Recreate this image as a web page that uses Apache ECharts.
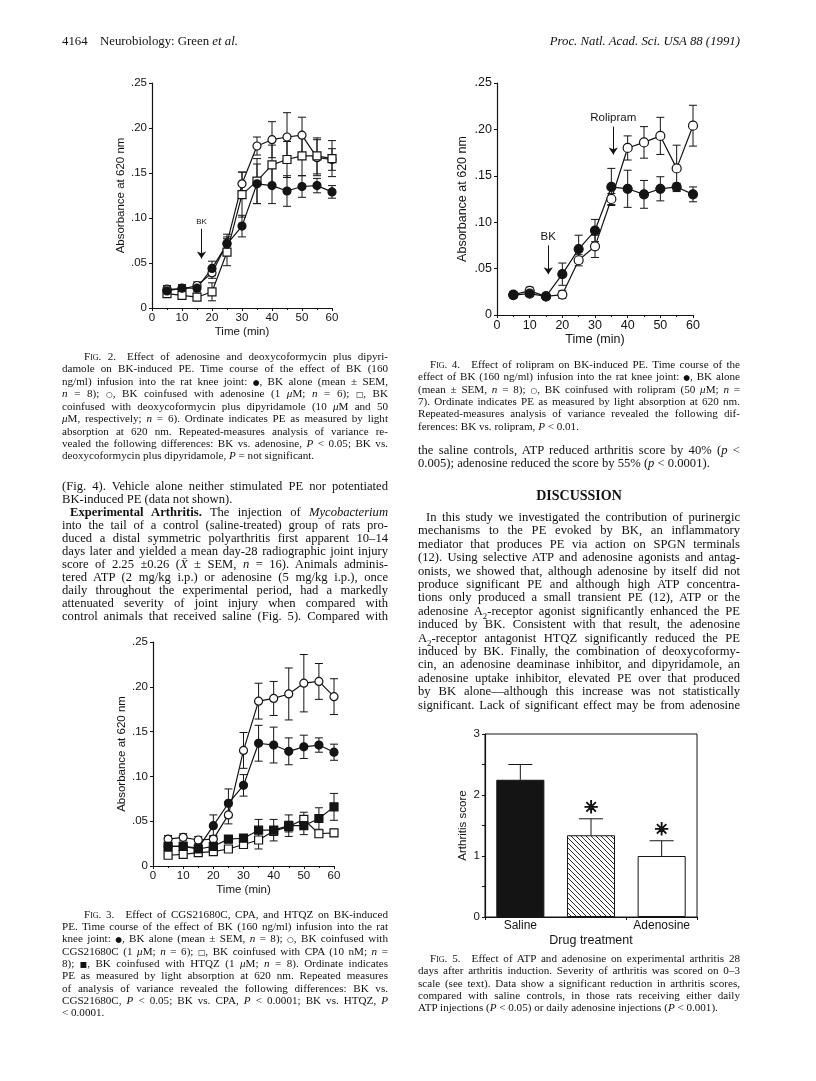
<!DOCTYPE html>
<html>
<head>
<meta charset="utf-8">
<title>Green et al. 1991, Figs. 2-5</title>
<script src="https://cdn.jsdelivr.net/npm/echarts@6.0.0/dist/echarts.min.js"></script>
<style>
    html, body { margin: 0; padding: 0; background: #fff; }
    #page { position: relative; width: 816px; height: 1081px; overflow: hidden; background: #fff; }
    #chart { position: absolute; left: 0; top: 0; width: 816px; height: 1081px; }
    .ln {
        position: absolute; white-space: pre; line-height: 1; color: #111;
        font-family: "Liberation Serif", "DejaVu Serif", serif;
    }
    .sc { font-variant: small-caps; }
    .sym { font-family: "DejaVu Sans", sans-serif; font-size: 0.7em; }
</style>
</head>
<body>
<div id="page"><div id="chart"></div></div>
<script>
const FONT = '"Liberation Sans", Arial, sans-serif'
const INK = '#141414'

// sampling times (min), shared by figs 2-4
const times = [5, 10, 15, 20, 25, 30, 35, 40, 45, 50, 55, 60]

// Fig. 2 - adenosine / deoxycoformycin + dipyridamole
const fig2BK       = [0.019, 0.022, 0.022, 0.044, 0.071, 0.091, 0.138, 0.136, 0.130, 0.135, 0.136, 0.129]
const fig2BKSem    = [0.005, 0.004, 0.004, 0.008, 0.008, 0.012, 0.022, 0.020, 0.017, 0.012, 0.008, 0.007]
const fig2Ado      = [0.021, 0.021, 0.025, 0.039, 0.072, 0.138, 0.180, 0.187, 0.190, 0.192, 0.167, 0.165]
const fig2AdoSem   = [0.004, 0.004, 0.004, 0.006, 0.010, 0.013, 0.010, 0.020, 0.027, 0.020, 0.020, 0.012]
const fig2Dcf      = [0.016, 0.014, 0.012, 0.018, 0.062, 0.126, 0.141, 0.159, 0.165, 0.169, 0.169, 0.166]
const fig2DcfSem   = [0.003, 0.003, 0.003, 0.010, 0.015, 0.025, 0.025, 0.022, 0.020, 0.022, 0.020, 0.020]

// Fig. 4 - rolipram
const fig4BK       = [0.0215, 0.023, 0.020, 0.044, 0.071, 0.091, 0.138, 0.136, 0.130, 0.136, 0.138, 0.130]
const fig4BKSem    = [0.003, 0.003, 0.003, 0.012, 0.015, 0.012, 0.020, 0.020, 0.015, 0.013, 0.004, 0.008]
const fig4Roli     = [0.022, 0.026, 0.020, 0.022, 0.059, 0.074, 0.125, 0.180, 0.186, 0.193, 0.158, 0.204]
const fig4RoliSem  = [0.003, 0.004, 0.003, 0.004, 0.006, 0.012, 0.006, 0.013, 0.017, 0.020, 0.025, 0.022]

// Fig. 3 - CGS21680C / CPA / HTQZ
const fig3BK       = [0.022, 0.022, 0.020, 0.045, 0.070, 0.090, 0.137, 0.135, 0.128, 0.133, 0.135, 0.127]
const fig3BKSem    = [0.004, 0.004, 0.004, 0.012, 0.016, 0.012, 0.020, 0.020, 0.015, 0.013, 0.008, 0.009]
const fig3CGS      = [0.030, 0.032, 0.029, 0.030, 0.057, 0.129, 0.184, 0.187, 0.192, 0.204, 0.206, 0.189]
const fig3CGSSem   = [0.004, 0.004, 0.004, 0.004, 0.010, 0.020, 0.020, 0.019, 0.029, 0.032, 0.020, 0.020]
const fig3CPA      = [0.012, 0.013, 0.015, 0.016, 0.019, 0.024, 0.029, 0.039, 0.044, 0.052, 0.036, 0.037]
const fig3CPASem   = [0.003, 0.003, 0.003, 0.003, 0.003, 0.004, 0.010, 0.005, 0.006, 0.008, 0.004, 0.004]
const fig3HTQZ     = [0.022, 0.022, 0.019, 0.022, 0.030, 0.031, 0.040, 0.040, 0.045, 0.045, 0.053, 0.066]
const fig3HTQZSem  = [0.004, 0.004, 0.004, 0.004, 0.004, 0.004, 0.012, 0.012, 0.012, 0.010, 0.012, 0.015]

// Fig. 5 - arthritis score
const groups      = ['Saline', 'ATP', 'Adenosine']
const scores      = [2.25, 1.34, 1.0]
const scoreSem    = [0.25, 0.27, 0.25]
const significant = ['', '\u2733', '\u2733']

// absorbance tick labels: ".25" style
function absLabel (v) {
    if (v === 0) return '0'
    return '.' + String(Math.round(v * 100)).padStart(2, '0')
}

function timeAxis (gi, fs) {
    return {
        type: 'value', gridIndex: gi, min: 0, max: 60, interval: 10,
        name: 'Time (min)', nameLocation: 'middle', nameGap: 18,
        nameTextStyle: { fontFamily: FONT, fontSize: fs, color: INK },
        axisLine: { onZero: false, lineStyle: { color: INK, width: 1.2 } },
        axisTick: { show: true, length: 3, lineStyle: { color: INK } },
        minorTick: { show: true, splitNumber: 2, length: 2, lineStyle: { color: INK } },
        axisLabel: { fontFamily: FONT, fontSize: fs, color: INK, margin: 4 },
        splitLine: { show: false }
    }
}

function absAxis (gi, fs, gap) {
    return {
        type: 'value', gridIndex: gi, min: 0, max: 0.25, interval: 0.05,
        name: 'Absorbance at 620 nm', nameLocation: 'middle', nameGap: gap,
        nameTextStyle: { fontFamily: FONT, fontSize: fs, color: INK },
        axisLine: { show: true, onZero: false, lineStyle: { color: INK, width: 1.2 } },
        axisTick: { show: true, length: 3, lineStyle: { color: INK } },
        axisLabel: { fontFamily: FONT, fontSize: fs, color: INK, margin: 5, formatter: absLabel },
        splitLine: { show: false }
    }
}

function curve (gi, name, vals, symbol, filled, size) {
    return {
        type: 'line', name: name, xAxisIndex: gi, yAxisIndex: gi,
        data: times.map((t, i) => [t, vals[i]]),
        symbol: symbol, symbolSize: size, showAllSymbol: true,
        lineStyle: { color: INK, width: 1.2 },
        itemStyle: { color: filled ? INK : '#fff', borderColor: INK, borderWidth: 1.2 },
        z: 4
    }
}

function errBars (gi, vals, sem, cap) {
    return {
        type: 'custom', xAxisIndex: gi, yAxisIndex: gi, z: 2,
        data: times.map((t, i) => [t, vals[i] - sem[i], vals[i] + sem[i]]),
        renderItem: function (params, api) {
            const lo = api.coord([api.value(0), api.value(1)])
            const hi = api.coord([api.value(0), api.value(2)])
            const c = cap / 2
            const st = { stroke: INK, lineWidth: 1 }
            return {
                type: 'group', children: [
                    { type: 'line', shape: { x1: lo[0], y1: lo[1], x2: hi[0], y2: hi[1] }, style: st },
                    { type: 'line', shape: { x1: lo[0] - c, y1: lo[1], x2: lo[0] + c, y2: lo[1] }, style: st },
                    { type: 'line', shape: { x1: hi[0] - c, y1: hi[1], x2: hi[0] + c, y2: hi[1] }, style: st }
                ]
            }
        }
    }
}

// arrow with a label above it, placed in data space
function arrowNote (gi, x, yTop, yTip, text, fs) {
    return {
        type: 'line', xAxisIndex: gi, yAxisIndex: gi, data: [], silent: true,
        markLine: {
            silent: true, symbol: ['none', 'arrow'], symbolSize: 7,
            lineStyle: { color: INK, width: 1, type: 'solid' },
            label: { show: true, position: 'start', formatter: text, distance: 3,
                     fontFamily: FONT, fontSize: fs, color: INK },
            data: [[{ coord: [x, yTop] }, { coord: [x, yTip] }]]
        }
    }
}

// hatch for the ATP bar
const hatch = document.createElement('canvas')
hatch.width = 5
hatch.height = 5
const hc = hatch.getContext('2d')
hc.fillStyle = '#fff'
hc.fillRect(0, 0, 5, 5)
hc.strokeStyle = INK
hc.lineWidth = 0.9
hc.beginPath()
hc.moveTo(-1, -1)
hc.lineTo(6, 6)
hc.stroke()
const barFills = [INK, { image: hatch, repeat: 'repeat' }, '#fff']

const chart = echarts.init(document.getElementById('chart'))
chart.setOption({
    animation: false,
    grid: [
        { left: 152, top: 83, width: 180, height: 225, outerBoundsMode: 'none' },
        { left: 497, top: 83, width: 196, height: 232, outerBoundsMode: 'none' },
        { left: 153, top: 642, width: 181, height: 224, outerBoundsMode: 'none' },
        { left: 485, top: 734, width: 212, height: 183, outerBoundsMode: 'none',
          show: true, borderColor: INK, borderWidth: 1, backgroundColor: 'transparent' }
    ],
    xAxis: [
        timeAxis(0, 11.5),
        timeAxis(1, 12.5),
        timeAxis(2, 11.5),
        {
            type: 'category', gridIndex: 3, data: groups,
            name: 'Drug treatment', nameLocation: 'middle', nameGap: 17,
            nameTextStyle: { fontFamily: FONT, fontSize: 12.5, color: INK },
            axisLine: { lineStyle: { color: INK, width: 1.2 } },
            axisTick: { show: true, length: 3, lineStyle: { color: INK } },
            axisLabel: { fontFamily: FONT, fontSize: 12, color: INK, margin: 3 }
        }
    ],
    yAxis: [
        absAxis(0, 11.5, 24),
        absAxis(1, 12.5, 28),
        absAxis(2, 11.5, 24),
        {
            type: 'value', gridIndex: 3, min: 0, max: 3, interval: 0.5,
            name: 'Arthritis score', nameLocation: 'middle', nameGap: 16,
            nameTextStyle: { fontFamily: FONT, fontSize: 11.5, color: INK },
            axisLine: { show: true, lineStyle: { color: INK, width: 1.2 } },
            axisTick: { show: true, length: 3, lineStyle: { color: INK } },
            axisLabel: { fontFamily: FONT, fontSize: 11.5, color: INK, margin: 5,
                         formatter: v => Number.isInteger(v) ? String(v) : '' },
            splitLine: { show: false }
        }
    ],
    series: [
        // Fig. 2
        errBars(0, fig2Ado, fig2AdoSem, 8),
        errBars(0, fig2Dcf, fig2DcfSem, 8),
        errBars(0, fig2BK, fig2BKSem, 8),
        curve(0, 'BK + adenosine', fig2Ado, 'circle', false, 8),
        curve(0, 'BK + deoxycoformycin/dipyridamole', fig2Dcf, 'rect', false, 8),
        curve(0, 'BK alone', fig2BK, 'circle', true, 8),
        arrowNote(0, 16.5, 0.088, 0.055, 'BK', 8),

        // Fig. 4
        errBars(1, fig4Roli, fig4RoliSem, 8),
        errBars(1, fig4BK, fig4BKSem, 8),
        curve(1, 'BK + rolipram', fig4Roli, 'circle', false, 9),
        curve(1, 'BK alone', fig4BK, 'circle', true, 9),
        arrowNote(1, 15.7, 0.075, 0.044, 'BK', 11.5),
        arrowNote(1, 35.6, 0.203, 0.173, 'Rolipram', 11.5),

        // Fig. 3
        errBars(2, fig3CGS, fig3CGSSem, 8),
        errBars(2, fig3BK, fig3BKSem, 8),
        errBars(2, fig3CPA, fig3CPASem, 8),
        errBars(2, fig3HTQZ, fig3HTQZSem, 8),
        curve(2, 'BK + CGS21680C', fig3CGS, 'circle', false, 8),
        curve(2, 'BK + CPA', fig3CPA, 'rect', false, 8),
        curve(2, 'BK + HTQZ', fig3HTQZ, 'rect', true, 8),
        curve(2, 'BK alone', fig3BK, 'circle', true, 8),

        // Fig. 5
        {
            type: 'bar', xAxisIndex: 3, yAxisIndex: 3, barWidth: '68%',
            data: scores.map((v, i) => ({ value: v, itemStyle: { color: barFills[i] } })),
            itemStyle: { borderColor: INK, borderWidth: 1 }
        },
        {
            type: 'custom', xAxisIndex: 3, yAxisIndex: 3, z: 3,
            data: scores.map((v, i) => [i, v, v + scoreSem[i]]),
            renderItem: function (params, api) {
                const top = api.coord([api.value(0), api.value(1)])
                const hi = api.coord([api.value(0), api.value(2)])
                const st = { stroke: INK, lineWidth: 1 }
                const kids = [
                    { type: 'line', shape: { x1: top[0], y1: top[1], x2: hi[0], y2: hi[1] }, style: st },
                    { type: 'line', shape: { x1: hi[0] - 12, y1: hi[1], x2: hi[0] + 12, y2: hi[1] }, style: st }
                ]
                const mark = significant[params.dataIndex]
                if (mark) {
                    kids.push({ type: 'text', x: hi[0], y: hi[1] - 10,
                        style: { text: mark, fontFamily: '"DejaVu Sans", sans-serif', fontSize: 17,
                                 fontWeight: 'bold', fill: INK, stroke: INK, lineWidth: 1,
                                 align: 'center', verticalAlign: 'middle' } })
                }
                return { type: 'group', children: kids }
            }
        }
    ]
})

// ---- page text: one element per printed line, justified to the column ----
const page = document.getElementById('page')

function justify (el, target) {
    const n = (el.textContent.match(/ /g) || []).length
    if (!n) return
    const nat = el.getBoundingClientRect().width
    el.style.wordSpacing = ((target - nat) / n) + 'px'
}

function setLines (p) {
    p.lines.forEach(function (html, i) {
        const el = document.createElement('div')
        el.className = 'ln'
        el.style.fontSize = p.size + 'px'
        if (p.bold) el.style.fontWeight = 'bold'
        if (p.italic) el.style.fontStyle = 'italic'
        el.innerHTML = html
        page.appendChild(el)
        el.style.top = (p.y + i * p.lh - p.size * 0.55) + 'px'
        const w = el.getBoundingClientRect().width
        if (p.align === 'center') {
            el.style.left = (p.x + (p.w - w) / 2) + 'px'
        } else if (p.align === 'right') {
            el.style.left = (p.x + p.w - w) + 'px'
        } else {
            const ind = (i === 0 && p.indent) ? p.indent : 0
            el.style.left = (p.x + ind) + 'px'
            const isLast = i === p.lines.length - 1
            if (p.justify && !(isLast && !p.fullLast)) justify(el, p.w - ind)
        }
    })
}

const S = {
    dot: '<span class="sym">\u25CF</span>',
    ring: '<span class="sym">\u25CB</span>',
    box: '<span class="sym">\u25A1</span>',
    sq: '<span class="sym">\u25A0</span>'
}

const CAP = 11.1
const BODY = 12.6

const blocks = [
    { x: 62, y: 42, w: 60, size: 12.8, lh: 13, lines: ['4164'] },
    { x: 100, y: 42, w: 200, size: 12.8, lh: 13, lines: ['Neurobiology: Green <i>et al.</i>'] },
    { x: 440, y: 42, w: 300, size: 12.8, lh: 13, italic: true, align: 'right',
      lines: ['Proc. Natl. Acad. Sci. USA 88 (1991)'] },

    { x: 62, y: 357, w: 326, size: CAP, lh: 12.45, indent: 22, justify: true, lines: [
        '<span class="sc">Fig.</span> 2.\u2003Effect of adenosine and deoxycoformycin plus dipyri-',
        'damole on BK-induced PE. Time course of the effect of BK (160',
        'ng/ml) infusion into the rat knee joint: ' + S.dot + ', BK alone (mean \u00B1 SEM,',
        '<i>n</i> = 8); ' + S.ring + ', BK coinfused with adenosine (1 <i>\u03BC</i>M; <i>n</i> = 6); ' + S.box + ', BK',
        'coinfused with deoxycoformycin plus dipyridamole (10 <i>\u03BC</i>M and 50',
        '<i>\u03BC</i>M, respectively; <i>n</i> = 6). Ordinate indicates PE as measured by light',
        'absorption at 620 nm. Repeated-measures analysis of variance re-',
        'vealed the following differences: BK vs. adenosine, <i>P</i> &lt; 0.05; BK vs.',
        'deoxycoformycin plus dipyridamole, <i>P</i> = not significant.'
    ] },
    { x: 62, y: 487, w: 326, size: BODY, lh: 13, justify: true, lines: [
        '(Fig. 4). Vehicle alone neither stimulated PE nor potentiated',
        'BK-induced PE (data not shown).'
    ] },
    { x: 62, y: 513, w: 326, size: BODY, lh: 13, indent: 8, justify: true, fullLast: true, lines: [
        '<b>Experimental Arthritis.</b> The injection of <i>Mycobacterium</i>',
        'into the tail of a control (saline-treated) group of rats pro-',
        'duced a distal symmetric polyarthritis first apparent 10\u201314',
        'days later and yielded a mean day-28 radiographic joint injury',
        'score of 2.25 \u00B10.26 (<i>X\u0304</i> \u00B1 SEM, <i>n</i> = 16). Animals adminis-',
        'tered ATP (2 mg/kg i.p.) or adenosine (5 mg/kg i.p.), once',
        'daily throughout the experimental period, had a markedly',
        'attenuated severity of joint injury when compared with',
        'control animals that received saline (Fig. 5). Compared with'
    ] },
    { x: 62, y: 915, w: 326, size: CAP, lh: 12.3, indent: 22, justify: true, lines: [
        '<span class="sc">Fig.</span> 3.\u2003Effect of CGS21680C, CPA, and HTQZ on BK-induced',
        'PE. Time course of the effect of BK (160 ng/ml) infusion into the rat',
        'knee joint: ' + S.dot + ', BK alone (mean \u00B1 SEM, <i>n</i> = 8); ' + S.ring + ', BK coinfused with',
        'CGS21680C (1 <i>\u03BC</i>M; <i>n</i> = 6); ' + S.box + ', BK coinfused with CPA (10 nM; <i>n</i> =',
        '8); ' + S.sq + ', BK coinfused with HTQZ (1 <i>\u03BC</i>M; <i>n</i> = 8). Ordinate indicates',
        'PE as measured by light absorption at 620 nm. Repeated measures',
        'of analysis of variance revealed the following differences: BK vs.',
        'CGS21680C, <i>P</i> &lt; 0.05; BK vs. CPA, <i>P</i> &lt; 0.0001; BK vs. HTQZ, <i>P</i>',
        '&lt; 0.0001.'
    ] },

    { x: 418, y: 365, w: 322, size: CAP, lh: 12.4, indent: 12, justify: true, lines: [
        '<span class="sc">Fig.</span> 4.\u2003Effect of rolipram on BK-induced PE. Time course of the',
        'effect of BK (160 ng/ml) infusion into the rat knee joint: ' + S.dot + ', BK alone',
        '(mean \u00B1 SEM, <i>n</i> = 8); ' + S.ring + ', BK coinfused with rolipram (50 <i>\u03BC</i>M; <i>n</i> =',
        '7). Ordinate indicates PE as measured by light absorption at 620 nm.',
        'Repeated-measures analysis of variance revealed the following dif-',
        'ferences: BK vs. rolipram, <i>P</i> &lt; 0.01.'
    ] },
    { x: 418, y: 451, w: 322, size: BODY, lh: 13, justify: true, lines: [
        'the saline controls, ATP reduced arthritis score by 40% (<i>p</i> &lt;',
        '0.005); adenosine reduced the score by 55% (<i>p</i> &lt; 0.0001).'
    ] },
    { x: 418, y: 497, w: 322, size: 14, lh: 14, bold: true, align: 'center', lines: ['DISCUSSION'] },
    { x: 418, y: 518, w: 322, size: BODY, lh: 13.4, indent: 8, justify: true, fullLast: true, lines: [
        'In this study we investigated the contribution of purinergic',
        'mechanisms to the PE evoked by BK, an inflammatory',
        'mediator that produces PE via action on SPGN terminals',
        '(12). Using selective ATP and adenosine agonists and antag-',
        'onists, we showed that, although adenosine by itself did not',
        'produce significant PE and although high ATP concentra-',
        'tions only produced a small transient PE (12), ATP or the',
        'adenosine A<sub style="font-size:0.7em">2</sub>-receptor agonist significantly enhanced the PE',
        'induced by BK. Consistent with that result, the adenosine',
        'A<sub style="font-size:0.7em">2</sub>-receptor antagonist HTQZ significantly reduced the PE',
        'induced by BK. Finally, the combination of deoxycoformy-',
        'cin, an adenosine deaminase inhibitor, and dipyridamole, an',
        'adenosine uptake inhibitor, elevated PE over that produced',
        'by BK alone\u2014although this increase was not statistically',
        'significant. Lack of significant effect may be from adenosine'
    ] },
    { x: 418, y: 959, w: 322, size: CAP, lh: 12.4, indent: 12, justify: true, lines: [
        '<span class="sc">Fig.</span> 5.\u2003Effect of ATP and adenosine on experimental arthritis 28',
        'days after arthritis induction. Severity of arthritis was scored on 0\u20133',
        'scale (see text). Data show a significant reduction in arthritis scores,',
        'compared with saline controls, in those rats receiving either daily',
        'ATP injections (<i>P</i> &lt; 0.05) or daily adenosine injections (<i>P</i> &lt; 0.001).'
    ] }
]

blocks.forEach(setLines)
</script>
</body>
</html>
